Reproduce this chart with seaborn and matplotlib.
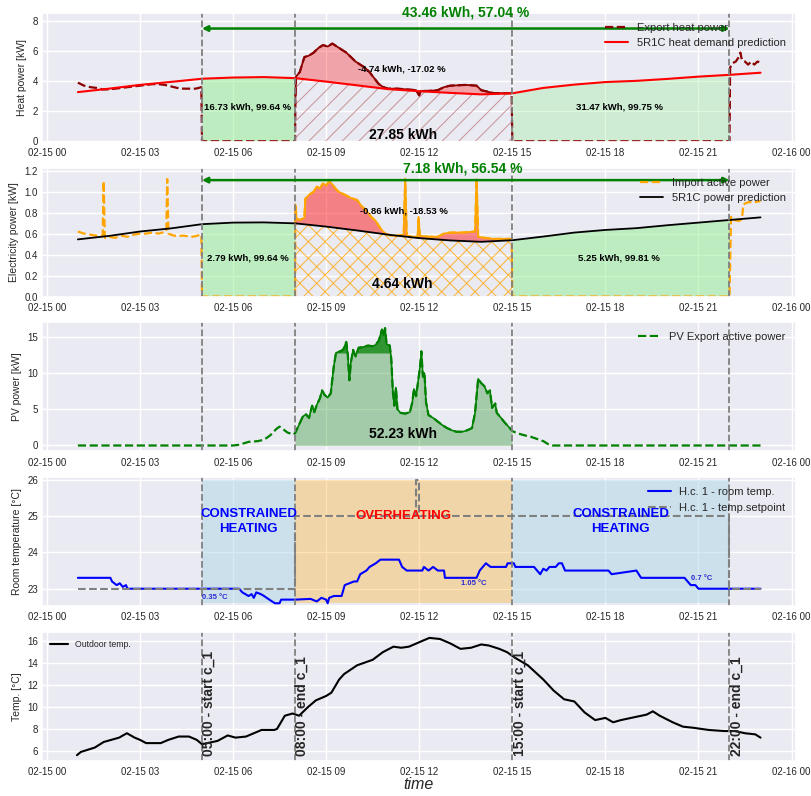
import numpy as np
import pandas as pd
import matplotlib
matplotlib.use("Agg")
import matplotlib.pyplot as plt
import matplotlib.dates as mdates
from matplotlib.ticker import MultipleLocator
import seaborn as sns

# ---------------- data (time in hours of 2023-02-15) ----------------
DAY = pd.Timestamp("2023-02-15")
EVENTS = [5.0, 8.0, 15.0, 22.0]
EVENT_LABELS = ["05:00 - start c_1", "08:00 - end c_1", "15:00 - start c_1", "22:00 - end c_1"]

heat_t = [1.0, 1.2, 1.4, 1.6, 1.8, 2.0, 2.2, 2.4, 2.6, 2.8, 3.0, 3.2, 3.4, 3.6, 3.8, 4.0, 4.2,
          4.4, 4.6, 4.8, 4.98, 5.0, 7.98, 8.0, 8.01, 8.03, 8.15, 8.3, 8.45, 8.6, 8.75, 8.9, 9.05,
          9.2, 9.35, 9.5, 9.65, 9.8, 9.95, 10.1, 10.25, 10.4, 10.55, 10.7, 10.85, 11.0, 11.3, 11.6,
          11.9, 12.0, 12.05, 12.3, 12.6, 12.8, 13.0, 13.5, 13.85, 14.0, 14.2, 14.4, 14.7, 14.98,
          15.0, 21.98, 22.0, 22.02, 22.1, 22.2, 22.3, 22.35, 22.4, 22.5, 22.6, 22.7, 22.8, 22.9, 23.0]
heat_v = [3.9, 3.7, 3.6, 3.55, 3.45, 3.45, 3.5, 3.55, 3.6, 3.65, 3.7, 3.75, 3.8, 3.8, 3.75, 3.65, 3.55,
          3.5, 3.5, 3.5, 3.6, 0.0, 0.0, 0.0, 2.8, 4.3, 4.6, 5.6, 5.7, 5.9, 6.2, 6.4, 6.3,
          6.5, 6.3, 6.1, 5.9, 5.6, 5.3, 5.1, 4.9, 4.6, 4.2, 3.8, 3.6, 3.5, 3.5, 3.45,
          3.4, 3.05, 3.35, 3.35, 3.4, 3.6, 3.7, 3.75, 3.7, 3.4, 3.3, 3.2, 3.2, 3.2,
          0.0, 0.0, 0.0, 4.9, 5.2, 5.3, 5.6, 5.9, 5.4, 5.3, 5.1, 5.3, 5.1, 5.3, 5.25]

pred_heat_t = list(range(1, 24))
pred_heat_v = [3.27, 3.5, 3.75, 3.95, 4.16, 4.24, 4.27, 4.2, 3.97, 3.72, 3.47, 3.33, 3.22,
               3.12, 3.19, 3.55, 3.77, 3.94, 4.02, 4.15, 4.3, 4.42, 4.56]

imp_t = [1.0, 1.2, 1.4, 1.6, 1.8, 1.83, 1.87, 2.0, 2.2, 2.4, 2.6, 2.8, 3.0, 3.2, 3.4, 3.6, 3.85,
         3.88, 3.92, 4.1, 4.4, 4.7, 4.98, 5.0, 7.98, 8.0, 8.01, 8.05, 8.15, 8.3, 8.33, 8.45, 8.6,
         8.7, 8.8, 8.9, 9.0, 9.1, 9.2, 9.3, 9.4, 9.6, 9.8, 10.0, 10.15, 10.3, 10.45, 10.6, 10.75,
         10.9, 11.1, 11.3, 11.5, 11.55, 11.6, 11.8, 11.95, 11.98, 12.02, 12.3, 12.6, 12.8, 13.0,
         13.4, 13.8, 13.85, 13.9, 14.1, 14.4, 14.7, 14.98, 15.0, 21.98, 22.0, 22.05, 22.15, 22.3,
         22.4, 22.45, 22.6, 22.8, 23.0]
imp_v = [0.62, 0.6, 0.59, 0.58, 0.58, 1.1, 0.56, 0.57, 0.56, 0.58, 0.57, 0.59, 0.6, 0.6, 0.61, 0.6, 0.62,
         1.12, 0.6, 0.58, 0.58, 0.57, 0.59, 0.0, 0.0, 0.0, 0.88, 0.74, 0.73, 0.75, 0.93, 0.97, 1.0,
         1.05, 1.03, 1.08, 1.06, 1.1, 1.07, 1.03, 1.0, 0.97, 0.94, 0.92, 0.86, 0.82, 0.76, 0.72, 0.65,
         0.6, 0.58, 0.58, 0.59, 1.12, 0.58, 0.57, 0.57, 0.76, 0.58, 0.57, 0.57, 0.6, 0.61,
         0.61, 0.62, 1.12, 0.57, 0.56, 0.55, 0.55, 0.55, 0.0, 0.0, 0.0, 0.76, 0.73, 0.72,
         0.74, 0.88, 0.9, 0.9, 0.91]

pred_pow_t = list(range(1, 24))
pred_pow_v = [0.545, 0.578, 0.62, 0.65, 0.69, 0.705, 0.707, 0.698, 0.667, 0.63, 0.59, 0.557,
              0.535, 0.522, 0.537, 0.572, 0.61, 0.635, 0.652, 0.68, 0.705, 0.73, 0.755]

pv_t = [1.0, 6.0, 6.2, 6.5, 6.8, 7.0, 7.2, 7.4, 7.5, 7.6, 7.75, 7.95, 8.0, 8.1, 8.25, 8.35, 8.45,
        8.55, 8.62, 8.7, 8.8, 8.87, 8.95, 9.05, 9.15, 9.25, 9.32, 9.45, 9.55, 9.65, 9.7, 9.75, 9.8,
        9.87, 9.95, 10.05, 10.2, 10.35, 10.5, 10.6, 10.7, 10.8, 10.85, 10.9, 10.95, 11.05, 11.1,
        11.15, 11.2, 11.25, 11.3, 11.4, 11.55, 11.7, 11.78, 11.83, 11.9, 11.97, 12.03, 12.07, 12.12,
        12.17, 12.22, 12.3, 12.45, 12.6, 12.75, 12.9, 13.05, 13.2, 13.4, 13.55, 13.7, 13.8, 13.9,
        14.0, 14.1, 14.2, 14.28, 14.35, 14.45, 14.5, 14.6, 14.75, 14.9, 15.0, 15.15, 15.4, 15.6,
        15.8, 16.0, 16.15, 16.3, 23.0]
pv_v = [0.0, 0.0, 0.1, 0.5, 0.6, 0.8, 1.4, 2.3, 2.6, 2.3, 1.8, 1.5, 1.7, 2.6, 4.0, 4.3, 3.8,
        5.5, 4.6, 5.6, 6.5, 7.6, 7.0, 6.6, 7.2, 11.0, 12.8, 13.0, 13.2, 14.3, 12.5, 9.0, 11.5,
        13.2, 12.3, 13.5, 13.6, 13.8, 13.7, 13.9, 14.5, 16.0, 15.2, 16.2, 14.0, 13.8, 12.0,
        7.5, 5.5, 8.0, 5.0, 4.5, 4.4, 4.6, 6.0, 7.8, 6.8, 9.0, 11.0, 13.0, 9.5,
        10.0, 6.0, 4.2, 3.8, 3.3, 2.8, 2.4, 2.1, 1.9, 1.9, 2.1, 2.4, 4.5, 9.2,
        8.6, 8.2, 7.2, 7.6, 5.2, 5.8, 4.5, 4.0, 3.2, 2.5, 2.0, 1.7, 1.4, 1.2,
        0.9, 0.6, 0.2, 0.0, 0.0]
PV_CAP = 12.7

room_t = [1.0, 2.05, 2.1, 2.25, 2.35, 2.45, 2.55, 2.6, 6.2, 6.3, 6.5, 6.6, 6.67, 6.75, 6.9, 7.0,
          7.17, 7.35, 7.5, 7.55, 8.0, 8.5, 8.7, 8.85, 9.0, 9.05, 9.1, 9.25, 9.5, 9.6, 9.9, 10.0,
          10.1, 10.3, 10.4, 10.6, 10.75, 11.35, 11.45, 11.6, 12.1, 12.15, 12.3, 12.45, 12.6, 12.8,
          12.83, 13.85, 13.95, 14.05, 14.15, 14.3, 14.8, 14.85, 15.05, 15.1, 15.7, 15.8, 15.9, 16.0,
          16.1, 16.2, 16.4, 16.5, 16.6, 16.7, 18.1, 18.2, 19.0, 19.15, 20.55, 20.65, 20.75, 20.9,
          21.0, 23.0]
room_v = [23.3, 23.3, 23.2, 23.1, 23.15, 23.05, 23.1, 23.0, 23.0, 22.9, 22.8, 22.85, 22.75, 22.9, 22.85, 22.8,
          22.7, 22.6, 22.6, 22.7, 22.7, 22.72, 22.65, 22.75, 22.7, 22.6, 22.75, 22.8, 22.8, 23.1, 23.2, 23.2,
          23.4, 23.5, 23.6, 23.7, 23.8, 23.8, 23.6, 23.5, 23.5, 23.6, 23.5, 23.6, 23.5, 23.5,
          23.3, 23.3, 23.5, 23.6, 23.7, 23.6, 23.6, 23.7, 23.7, 23.6, 23.6, 23.5, 23.4, 23.55,
          23.5, 23.6, 23.6, 23.7, 23.7, 23.5, 23.5, 23.4, 23.5, 23.3, 23.3, 23.2, 23.1, 23.1,
          23.0, 23.0]

setp_t = [1.0, 8.0, 8.0, 11.9, 11.9, 11.98, 11.98, 22.0, 22.0, 23.0]
setp_v = [23.0, 23.0, 25.0, 25.0, 26.0, 26.0, 25.0, 25.0, 23.0, 23.0]
ZONE_LOW, ZONE_HIGH = 22.62, 26.0

out_t = [0.97, 1.1, 1.33, 1.55, 1.83, 2.08, 2.33, 2.58, 2.83, 3.0, 3.2, 3.67, 3.92, 4.25, 4.58,
         4.83, 5.0, 5.17, 5.5, 5.83, 6.08, 6.42, 6.67, 6.92, 7.33, 7.42, 7.67, 7.92, 8.13, 8.42,
         8.67, 9.0, 9.17, 9.42, 9.58, 10.0, 10.5, 10.83, 11.17, 11.42, 11.67, 12.08, 12.33, 12.67,
         13.0, 13.33, 13.67, 14.0, 14.25, 14.58, 14.83, 15.08, 15.5, 16.0, 16.33, 16.67, 17.0,
         17.33, 17.67, 18.0, 18.25, 18.5, 18.83, 19.33, 19.53, 19.75, 20.17, 20.5, 20.83, 21.33,
         21.83, 22.17, 22.5, 22.83, 23.0]
out_v = [5.6, 5.9, 6.1, 6.3, 6.8, 7.0, 7.2, 7.6, 7.2, 7.0, 6.7, 6.7, 7.0, 7.3, 7.3,
         7.0, 6.6, 6.7, 6.9, 7.4, 7.2, 7.3, 7.6, 7.9, 7.9, 8.0, 9.2, 9.4, 9.2, 10.0,
         10.6, 11.0, 11.3, 12.5, 13.0, 13.8, 14.3, 15.0, 15.5, 15.4, 15.5, 16.0, 16.3, 16.2,
         15.8, 15.3, 15.4, 15.7, 15.6, 15.3, 15.0, 14.5, 13.8, 12.5, 11.5, 10.7, 10.5,
         9.5, 8.8, 9.0, 8.6, 8.8, 9.0, 9.3, 9.6, 9.2, 8.6, 8.2, 8.1, 7.9,
         7.8, 7.8, 7.6, 7.5, 7.2]

# ---------------- style ----------------
sns.set_theme(style="darkgrid")
plt.rcParams["font.family"] = ["Liberation Sans", "DejaVu Sans"]
plt.rcParams["hatch.linewidth"] = 0.7


def T(h):
    return DAY + pd.to_timedelta(np.asarray(h, dtype=float), unit="h")


def N(h):
    return mdates.date2num(DAY + pd.Timedelta(hours=h))


fig = plt.figure(figsize=(8.11, 7.96), dpi=100)
axes = fig.subplots(5, 1)
fig.subplots_adjust(left=0.052, right=0.981, top=0.984, bottom=0.044, hspace=0.2)

small_bold = dict(fontsize=6.8, fontweight="bold", ha="center", va="center", color="black")
big_bold = dict(fontsize=10, fontweight="bold", ha="center", va="center", color="black")
green_bold = dict(fontsize=10, fontweight="bold", ha="center", va="center", color="green", clip_on=False)

# ---------- panel 1: heat ----------
ax = axes[0]
ht, hv = np.array(heat_t), np.array(heat_v)
pt, pv_ = np.array(pred_heat_t, float), np.array(pred_heat_v)
m = (pt >= 5) & (pt <= 8)
ax.fill_between(T(pt[m]), 0, pv_[m], color="lightgreen", alpha=0.5, lw=0)
m = (pt >= 15) & (pt <= 22)
ax.fill_between(T(pt[m]), 0, pv_[m], color="lightgreen", alpha=0.3, lw=0)
m = (pt >= 8) & (pt <= 15)
ax.fill_between(T(pt[m]), 0, pv_[m], facecolor="none", edgecolor=(0.6, 0.15, 0.15, 0.45), hatch="//", lw=0)
mm = (ht > 8.0) & (ht < 15.0)
pint = np.interp(ht[mm], pt, pv_)
ax.fill_between(T(ht[mm]), pint, hv[mm], where=hv[mm] > pint, interpolate=True, color="red", alpha=0.3, lw=0)
sns.lineplot(x=T(ht), y=hv, ax=ax, color="darkred", linestyle="--", lw=1.6, sort=False, estimator=None,
             label="Export heat power")
ax.plot(T(ht[mm]), hv[mm], color="darkred", lw=1.3)
sns.lineplot(x=T(pt), y=pv_, ax=ax, color="red", lw=1.5, sort=False, estimator=None,
             label="5R1C heat demand prediction")
ax.set_ylim(-0.03, 8.55)
ax.yaxis.set_major_locator(MultipleLocator(2))
ax.set_ylabel("Heat power [kW]", fontsize=7.5)
ax.text(N(6.47), 2.3, "16.73 kWh, 99.64 %", **small_bold)
ax.text(N(18.45), 2.3, "31.47 kWh, 99.75 %", **small_bold)
ax.text(N(11.45), 4.8, "-4.74 kWh, -17.02 %", **small_bold)
ax.text(N(11.47), 0.45, "27.85 kWh", **big_bold)
ax.text(N(13.5), 8.55, "43.46 kWh, 57.04 %", **green_bold)
ax.annotate("", xy=(N(22), 7.5), xytext=(N(5), 7.5),
            arrowprops=dict(arrowstyle="<|-|>", color="green", lw=1.8, mutation_scale=8, shrinkA=0, shrinkB=0))
ax.legend(loc="upper right", fontsize=8, frameon=False)

# ---------- panel 2: electricity ----------
ax = axes[1]
it, iv = np.array(imp_t), np.array(imp_v)
qt, qv = np.array(pred_pow_t, float), np.array(pred_pow_v)
m = (qt >= 5) & (qt <= 8)
ax.fill_between(T(qt[m]), 0, qv[m], color="lightgreen", alpha=0.5, lw=0)
m = (qt >= 15) & (qt <= 22)
ax.fill_between(T(qt[m]), 0, qv[m], color="lightgreen", alpha=0.5, lw=0)
m = (qt >= 8) & (qt <= 15)
ax.fill_between(T(qt[m]), 0, qv[m], facecolor="none", edgecolor=(1.0, 0.65, 0.0, 0.8), hatch="xx", lw=0)
mm = (it > 8.0) & (it < 15.0)
qint = np.interp(it[mm], qt, qv)
ax.fill_between(T(it[mm]), qint, iv[mm], where=iv[mm] > qint, interpolate=True, color="red", alpha=0.45, lw=0)
sns.lineplot(x=T(it), y=iv, ax=ax, color="orange", linestyle="--", lw=1.6, sort=False, estimator=None,
             label="Import active power")
ax.plot(T(it[mm]), iv[mm], color="orange", lw=1.3)
sns.lineplot(x=T(qt), y=qv, ax=ax, color="black", lw=1.3, sort=False, estimator=None,
             label="5R1C power prediction")
ax.set_ylim(0, 1.23)
ax.yaxis.set_major_locator(MultipleLocator(0.2))
ax.set_ylabel("Electricity power [kW]", fontsize=7.5)
ax.text(N(6.47), 0.37, "2.79 kWh, 99.64 %", **small_bold)
ax.text(N(18.45), 0.37, "5.25 kWh, 99.81 %", **small_bold)
ax.text(N(11.5), 0.82, "-0.86 kWh, -18.53 %", **small_bold)
ax.text(N(11.47), 0.12, "4.64 kWh", **big_bold)
ax.text(N(13.4), 1.225, "7.18 kWh, 56.54 %", **green_bold)
ax.annotate("", xy=(N(22), 1.11), xytext=(N(5), 1.11),
            arrowprops=dict(arrowstyle="<|-|>", color="green", lw=1.8, mutation_scale=8, shrinkA=0, shrinkB=0))
ax.legend(loc="upper right", fontsize=8, frameon=False)

# ---------- panel 3: PV ----------
ax = axes[2]
st, sv = np.array(pv_t), np.array(pv_v)
mm = (st >= 8.0) & (st <= 15.0)
ax.fill_between(T(st[mm]), 0, sv[mm], color="green", alpha=0.3, lw=0)
mc = (st >= 9.3) & (st <= 11.1)
ax.fill_between(T(st[mc]), PV_CAP, sv[mc], where=sv[mc] > PV_CAP, interpolate=True, color="green", alpha=0.7, lw=0)
sns.lineplot(x=T(st), y=sv, ax=ax, color="green", linestyle="--", lw=1.6, sort=False, estimator=None,
             label="PV Export active power")
ax.plot(T(st[mm]), sv[mm], color="green", lw=1.2)
ax.set_ylim(-0.81, 17.0)
ax.yaxis.set_major_locator(MultipleLocator(5))
ax.set_ylabel("PV power [kW]", fontsize=7.5)
ax.text(N(11.47), 1.6, "52.23 kWh", **big_bold)
ax.legend(loc="upper right", fontsize=8, frameon=False)

# ---------- panel 4: room temperature ----------
ax = axes[3]
ax.fill_between(T([5, 8]), ZONE_LOW, ZONE_HIGH, color="lightblue", alpha=0.5, lw=0)
ax.fill_between(T([8, 15]), ZONE_LOW, ZONE_HIGH, color="orange", alpha=0.3, lw=0)
ax.fill_between(T([15, 22]), ZONE_LOW, ZONE_HIGH, color="lightblue", alpha=0.5, lw=0)
sns.lineplot(x=T(room_t), y=room_v, ax=ax, color="blue", lw=1.5, sort=False, estimator=None,
             label="H.c. 1 - room temp.")
sns.lineplot(x=T(setp_t), y=setp_v, ax=ax, color="grey", linestyle="--", lw=1.5, sort=False, estimator=None,
             label="H.c. 1 - temp.setpoint")
ax.set_ylim(22.52, 26.07)
ax.yaxis.set_major_locator(MultipleLocator(1))
ax.set_ylabel("Room temperature [°C]", fontsize=7.5)
zone_txt = dict(fontsize=9.5, fontweight="bold", ha="center", va="center", linespacing=1.3)
ax.text(N(6.5), 24.85, "CONSTRAINED\nHEATING", color="blue", **zone_txt)
ax.text(N(11.5), 25.0, "OVERHEATING", color="red", **zone_txt)
ax.text(N(18.5), 24.85, "CONSTRAINED\nHEATING", color="blue", **zone_txt)
tiny = dict(fontsize=5.5, fontweight="bold", color="#2a2ad0", va="center")
ax.text(N(5.0), 22.75, "0.35 °C", ha="left", **tiny)
ax.text(N(13.75), 23.15, "1.05 °C", ha="center", **tiny)
ax.text(N(21.1), 23.28, "0.7 °C", ha="center", **tiny)
ax.legend(loc="upper right", fontsize=8, frameon=False)

# ---------- panel 5: outdoor temperature ----------
ax = axes[4]
sns.lineplot(x=T(out_t), y=out_v, ax=ax, color="black", lw=1.5, sort=False, estimator=None,
             label="Outdoor temp.")
ax.set_ylim(5.07, 16.84)
ax.yaxis.set_major_locator(MultipleLocator(2))
ax.set_ylabel("Temp. [°C]", fontsize=7.5)
for h, lab in zip(EVENTS, EVENT_LABELS):
    ax.text(N(h), 5.5, lab, rotation=90, ha="left", va="bottom", fontsize=10, fontweight="bold")
ax.legend(loc="upper left", fontsize=6.3, frameon=False)
ax.set_xlabel("time", fontsize=11.5, fontstyle="italic", labelpad=0)

# ---------- common x axis formatting ----------
for i, ax in enumerate(axes):
    for h in EVENTS:
        ax.axvline(N(h), color="grey", linestyle="--", lw=1.3)
    ax.set_xlim(N(-0.15), N(24.13))
    ax.xaxis.set_major_locator(mdates.HourLocator(byhour=range(0, 24, 3)))
    ax.xaxis.set_major_formatter(mdates.DateFormatter("%m-%d %H"))
    ax.tick_params(axis="x", labelsize=7, length=0, pad=4.5)
    ax.tick_params(axis="y", labelsize=7, length=0, pad=3)
    if i < 4:
        ax.set_xlabel("")

fig.savefig("out.png", dpi=100)
